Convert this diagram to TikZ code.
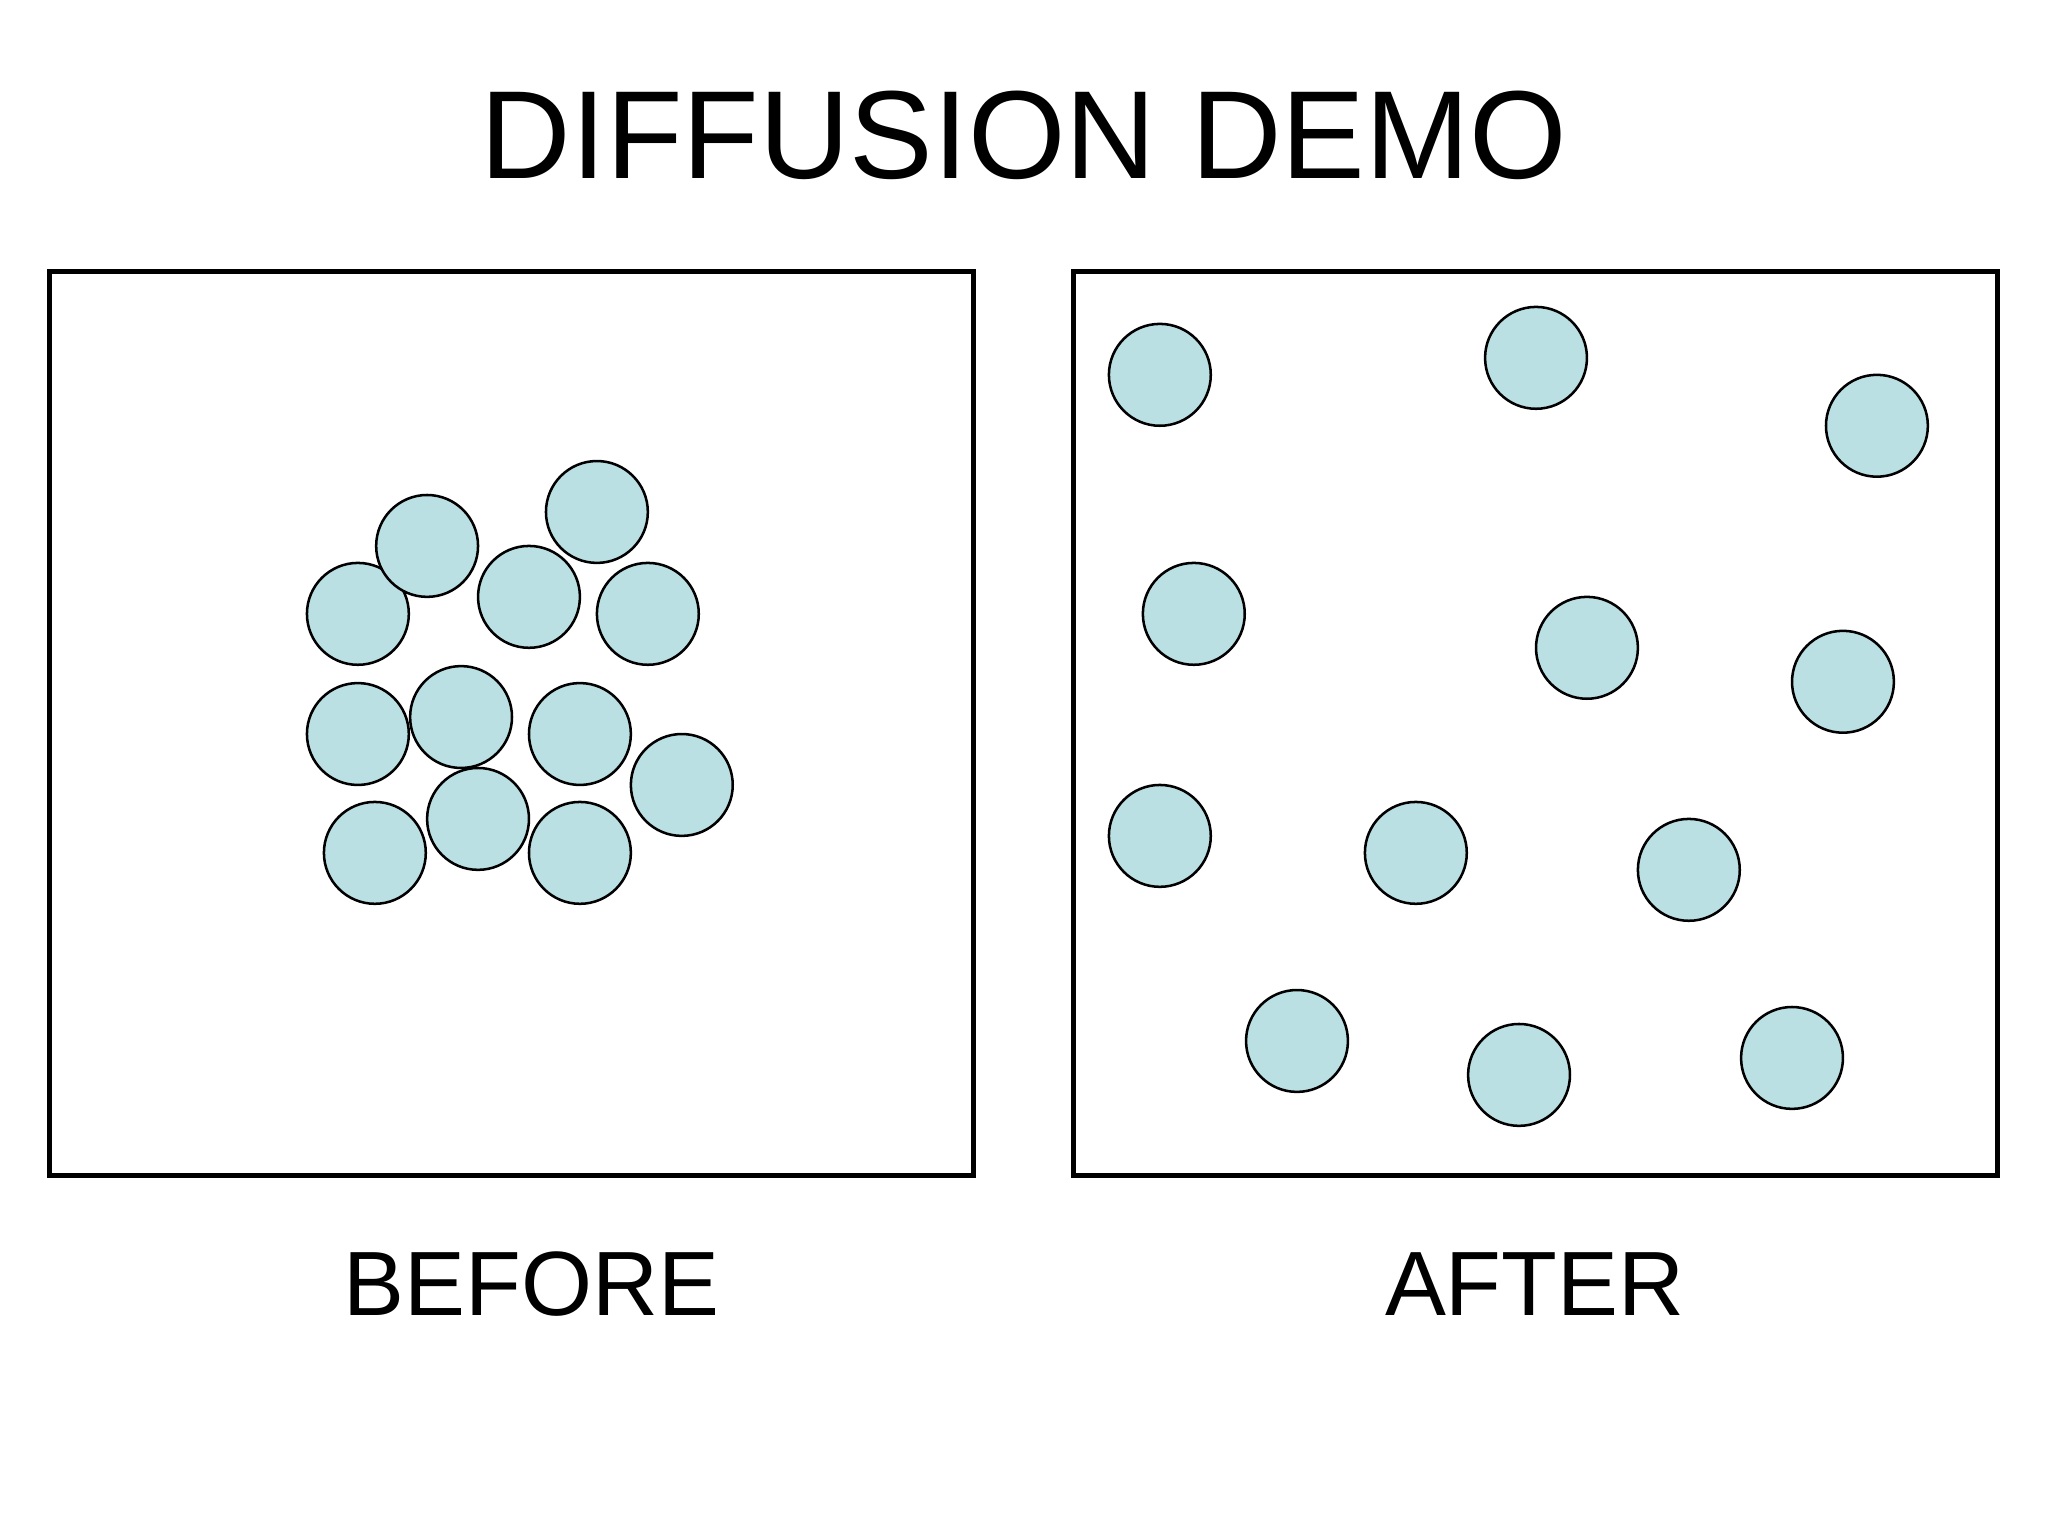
\documentclass[tikz,border=0pt]{standalone}
\usepackage{fontspec}
\setmainfont{Liberation Sans}
\definecolor{ballcol}{RGB}{187,224,227}
\tikzstyle{ball}=[circle,draw=black,fill=ballcol,line width=0.55pt,minimum size=7.8mm,inner sep=0pt]
\tikzstyle{tank}=[draw=black,line width=1.1pt]
\tikzstyle{caption}=[anchor=base,font=\fontsize{19.9}{24}\selectfont]

\begin{document}
\begin{tikzpicture}
  \useasboundingbox (0,0) rectangle (15.68,11.76);
  % Title
  \node[anchor=base,font=\fontsize{27.3}{33}\selectfont] (title) at (7.84,10.39) {DIFFUSION DEMO};
  % Containers
  \draw[tank] (0.38,2.76) rectangle (7.45,9.68);
  \draw[tank] (8.22,2.76) rectangle (15.29,9.68);
  % Particles before
  \foreach \x/\y/\n in {2.74/7.06/1,3.27/7.58/2,4.57/7.84/3,4.05/7.19/4,
      4.96/7.06/5,2.74/6.14/6,3.53/6.27/7,4.44/6.14/8,5.22/5.75/9,
      3.66/5.49/10,2.87/5.23/11,4.44/5.23/12}
    \node[ball] (b\n) at (\x,\y) {};
  % Particles after
  \foreach \x/\y/\n in {8.88/8.89/1,11.76/9.02/2,14.37/8.50/3,9.14/7.06/4,
      12.15/6.80/5,14.11/6.54/6,8.88/5.36/7,10.84/5.23/8,12.93/5.10/9,
      9.93/3.79/10,11.63/3.53/11,13.72/3.66/12}
    \node[ball] (a\n) at (\x,\y) {};
  % Labels
  \node[caption] (before) at (4.07,1.69) {BEFORE};
  \node[caption] (after) at (11.75,1.69) {AFTER};
\end{tikzpicture}
\end{document}
